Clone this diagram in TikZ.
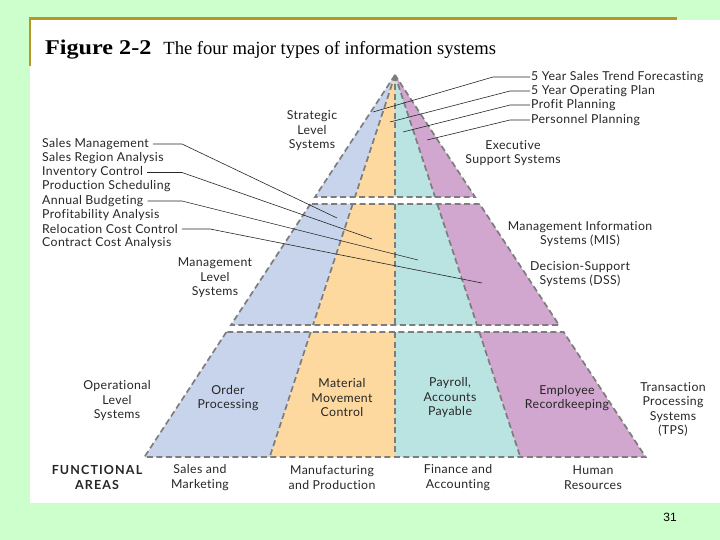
\documentclass[tikz,border=0pt]{standalone}
\usepackage{fontspec}
\setmainfont{Lato}[Ligatures=NoCommon, LetterSpace=3]
\newfontfamily\capfont{Liberation Serif}
\newfontfamily\pgnofont{Liberation Sans}
\newfontfamily\areafont{Lato}[Ligatures=NoCommon, LetterSpace=9]
\usetikzlibrary{calc}
\definecolor{slidegreen}{RGB}{204,255,204}
\definecolor{olivebar}{RGB}{184,150,40}
\definecolor{tierblue}{RGB}{199,212,236}
\definecolor{tierorange}{RGB}{253,217,160}
\definecolor{tierteal}{RGB}{186,228,226}
\definecolor{tierpurple}{RGB}{209,166,207}
\definecolor{dashgray}{RGB}{125,125,125}
\tikzset{
  lbl/.style={font=\fontsize{12.3}{14.5}\selectfont, text=black!85, align=center, inner sep=1pt},
  lst/.style={lbl, anchor=west, align=left},
  tierline/.style={dashgray, line width=1.7pt, dash pattern=on 6pt off 3.5pt},
  leader/.style={black!85, line width=0.6pt},
}

\begin{document}
\begin{tikzpicture}[x=1pt,y=-1pt]
\useasboundingbox (0,0) rectangle (720,540);
% --- Slide ---
\fill[slidegreen] (0,0) rectangle (720,540);
\fill[white] (30,20) rectangle (720,503);
\fill[olivebar] (29,17) rectangle (677,20);
\fill[olivebar] (29,17) rectangle (31,66);
\node[anchor=base west, inner sep=0pt] (title) at (45,55)
  {\capfont\scalebox{1.15}[1]{\fontsize{21}{21}\selectfont\bfseries Figure 2-2}\hspace{12pt}{\fontsize{18.6}{18.6}\selectfont The four major types of information systems}};
\node[font=\pgnofont\fontsize{12}{12}\selectfont] (pgno) at (670,517) {31};
% --- Pyramid ---
\coordinate (apex) at (395,75);
\foreach \ya/\yb in {75/197, 204/325, 332/457}{
  \pgfmathsetmacro\wa{(\ya-75)*0.656}
  \pgfmathsetmacro\wb{(\yb-75)*0.656}
  \fill[tierblue] (395-\wa,\ya) -- (395-\wb,\yb) -- (395-\wb/2,\yb) -- (395-\wa/2,\ya) -- cycle;
  \fill[tierorange] (395-\wa/2,\ya) -- (395-\wb/2,\yb) -- (395,\yb) -- (395,\ya) -- cycle;
  \fill[tierteal] (395,\ya) -- (395,\yb) -- (395+\wb/2,\yb) -- (395+\wa/2,\ya) -- cycle;
  \fill[tierpurple] (395+\wa/2,\ya) -- (395+\wb/2,\yb) -- (395+\wb,\yb) -- (395+\wa,\ya) -- cycle;
  \draw[tierline] (395-\wa,\ya) -- (395-\wb,\yb) -- (395+\wb,\yb) -- (395+\wa,\ya) -- cycle;
  \draw[tierline] (395-\wa/2,\ya) -- (395-\wb/2,\yb);
  \draw[tierline] (395,\ya) -- (395,\yb);
  \draw[tierline] (395+\wa/2,\ya) -- (395+\wb/2,\yb);
}
% --- Level labels ---
\node[lbl] (strat) at (312,131) {Strategic\\Level\\Systems};
\node[lbl] (ess) at (513,153) {Executive\\Support Systems};
\node[lbl] (mgmt) at (215,278) {Management\\Level\\Systems};
\node[lbl] (mis) at (580,234) {Management Information\\Systems (MIS)};
\node[lbl] (dss) at (580,274) {Decision-Support\\Systems (DSS)};
\node[lbl] (oper) at (117,401) {Operational\\Level\\Systems};
\node[lbl] (tps) at (673,409.5) {Transaction\\Processing\\Systems\\(TPS)};
% --- Operational systems ---
\node[lbl] (order) at (228,398) {Order\\Processing};
\node[lbl] (matl) at (342,398) {Material\\Movement\\Control};
\node[lbl] (payroll) at (450,398) {Payroll,\\Accounts\\Payable};
\node[lbl] (empl) at (567,398) {Employee\\Recordkeeping};
% --- Functional areas ---
\node[lbl, font=\areafont\fontsize{12.5}{14.5}\selectfont\bfseries] (func) at (97,477.5) {FUNCTIONAL\\AREAS};
\node[lbl] (sales) at (200,477.5) {Sales and\\Marketing};
\node[lbl] (manuf) at (332,477.5) {Manufacturing\\and Production};
\node[lbl] (fin) at (458,477.5) {Finance and\\Accounting};
\node[lbl] (hr) at (593,477.5) {Human\\Resources};
% --- Strategic applications ---
\node[lst] (sf) at (530,77) {5 Year Sales Trend Forecasting};
\node[lst] (op) at (530,91) {5 Year Operating Plan};
\node[lst] (pp) at (530,105) {Profit Planning};
\node[lst] (pe) at (530,120) {Personnel Planning};
\foreach \n/\ex/\tx/\ty in {sf/493/373/112, op/510/390/122, pp/510/403/132, pe/510/427/140}
  {\coordinate (\n-end) at (\tx,\ty);
   \draw[leader] (\n.west) -- (\n.west -| \ex,0) -- (\n-end);}
% --- Management applications ---
\node[lst] (sm) at (41,144) {Sales Management};
\node[lst] (sr) at (41,158) {Sales Region Analysis};
\node[lst] (ic) at (41,172.5) {Inventory Control};
\node[lst] (ps) at (41,186.5) {Production Scheduling};
\node[lst] (ab) at (41,201) {Annual Budgeting};
\node[lst] (pa) at (41,215) {Profitability Analysis};
\node[lst] (rc) at (41,229) {Relocation Cost Control};
\node[lst] (cc) at (41,243) {Contract Cost Analysis};
\foreach \n/\ex/\tx/\ty in {sm/182/337/218, ic/182/372/239, ab/182/418/260, rc/210/482/283}
  {\coordinate (\n-end) at (\tx,\ty);
   \draw[leader] ([xshift=3pt]\n.east) -- (\n.east -| \ex,0) -- (\n-end);}
\end{tikzpicture}
\end{document}
